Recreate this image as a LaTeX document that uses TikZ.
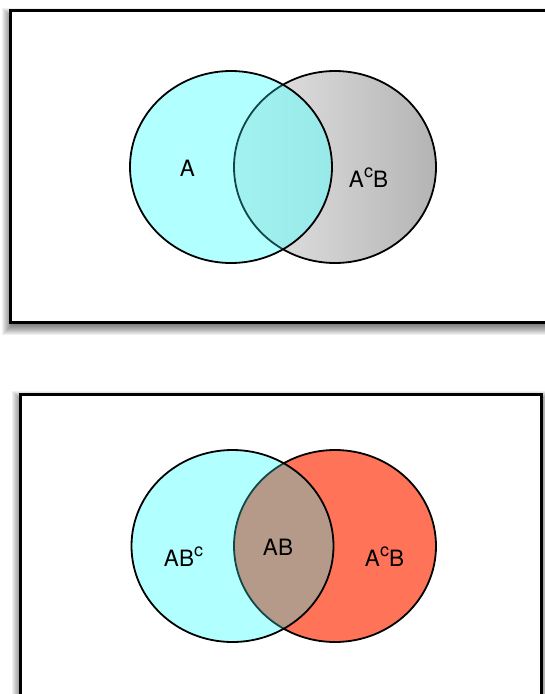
\documentclass[tikz,border=0pt]{standalone}
\usepackage{fontspec}
\setmainfont{TeX Gyre Heros}
\usetikzlibrary{positioning}
\definecolor{venncyan}{RGB}{178,255,255}
\definecolor{vennsalmon}{RGB}{255,115,88}
\definecolor{vennbrown}{RGB}{181,154,138}
\definecolor{venngrayL}{RGB}{232,232,232}
\definecolor{venngrayR}{RGB}{180,180,180}
\definecolor{venntealL}{RGB}{162,242,242}
\definecolor{venntealR}{RGB}{142,223,223}
\definecolor{venntealline}{RGB}{16,72,72}
\tikzset
{
    frame/.style       = {draw=black, line width=3pt, fill=white},
    shadowlayer/.style = {fill=black, opacity=0.06},
    setline/.style     = {draw=black, line width=1.8pt},
    innerline/.style   = {draw=venntealline, line width=1.8pt},
    setlabel/.style    = {anchor=base, inner sep=0pt, font=\fontsize{22.5}{26}\selectfont}
}
\newcommand\supc{\raisebox{10pt}{\fontsize{18}{18}\selectfont c}}

\begin{document}
\begin{tikzpicture}[x=1pt, y=-1pt]

   \newcommand\RX{101}
   \newcommand\RY{96}

   \useasboundingbox (0,0) rectangle (545,694);
   \clip (0,0) rectangle (545,694);

   %% frames with soft shadow
   \coordinate (fa1) at (10,10.5);
   \coordinate (fb1) at (580,322.3);
   \coordinate (fa2) at (20,394);
   \coordinate (fb2) at (541.7,720);

   \foreach \e in {-2,...,8}
   {
      \fill[shadowlayer] ([shift={(-\e,5-\e)}]fa1) rectangle ([shift={(\e,5+\e)}]fb1);
      \fill[shadowlayer] ([shift={(-\e,5-\e)}]fa2) rectangle ([shift={(\e,5+\e)}]fb2);
   }
   \draw[frame] (fa1) rectangle (fb1);
   \draw[frame] (fa2) rectangle (fb2);

   %% top diagram
   \coordinate (a1) at (231,167);
   \coordinate (b1) at (335,167);

   \shade[left color=venngrayL, right color=venngrayR, setline] (b1) ellipse [x radius=\RX, y radius=\RY];
   \fill[venncyan] (a1) ellipse [x radius=\RX, y radius=\RY];
   \begin{scope}
      \clip (a1) ellipse [x radius=\RX, y radius=\RY];
      \shade[left color=venntealL, right color=venntealR] (b1) ellipse [x radius=\RX, y radius=\RY];
      \draw[innerline] (b1) ellipse [x radius=\RX, y radius=\RY];
   \end{scope}
   \draw[setline] (a1) ellipse [x radius=\RX, y radius=\RY];

   \node (lblA)   [setlabel] at (187.5,176) {A};
   \node (lblAcB) [setlabel] at (368.5,187) {A\supc B};

   %% bottom diagram
   \coordinate (a2) at (232.5,546);
   \coordinate (b2) at (335,546);

   \fill[vennsalmon, setline] (b2) ellipse [x radius=\RX, y radius=\RY];
   \fill[venncyan] (a2) ellipse [x radius=\RX, y radius=\RY];
   \begin{scope}
      \clip (a2) ellipse [x radius=\RX, y radius=\RY];
      \fill[vennbrown] (b2) ellipse [x radius=\RX, y radius=\RY];
      \draw[innerline] (b2) ellipse [x radius=\RX, y radius=\RY];
   \end{scope}
   \draw[setline] (a2) ellipse [x radius=\RX, y radius=\RY];

   \node (lblABc)  [setlabel] at (183.5,566) {AB\supc};
   \node (lblAB)   [setlabel] at (278,555)   {AB};
   \node (lblAcB2) [setlabel] at (384.5,566) {A\supc B};

\end{tikzpicture}
\end{document}
